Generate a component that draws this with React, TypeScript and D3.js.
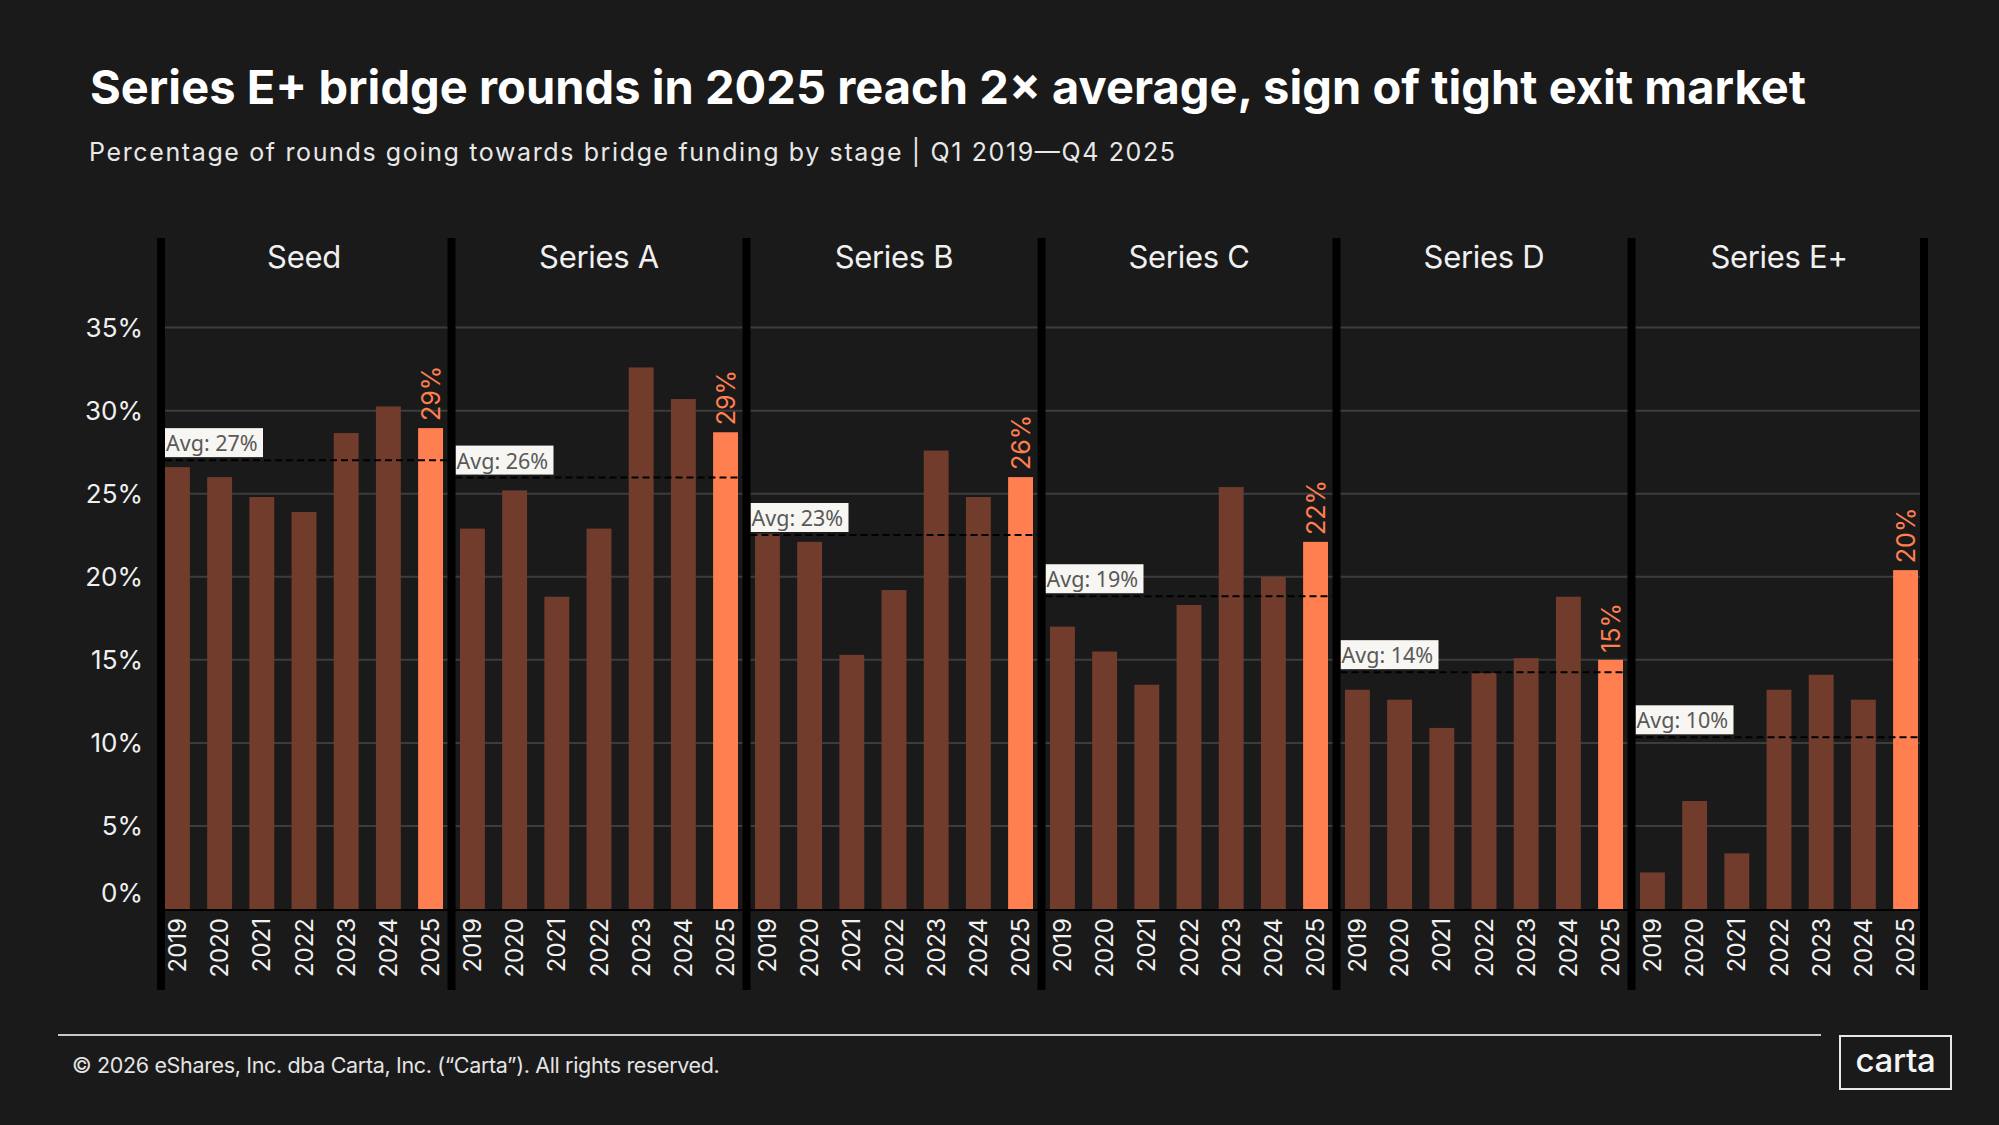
import React, { useEffect } from 'react';
import * as d3 from 'd3';

const stages = ['Seed', 'Series A', 'Series B', 'Series C', 'Series D', 'Series E+'];
const years = ['2019', '2020', '2021', '2022', '2023', '2024', '2025'];
const highlightYear = '2025';

const seedValues = [26.6, 26.0, 24.8, 23.9, 28.65, 30.25, 28.95];
const seriesAValues = [22.9, 25.2, 18.8, 22.9, 32.6, 30.7, 28.7];
const seriesBValues = [22.6, 22.1, 15.3, 19.2, 27.6, 24.8, 26.0];
const seriesCValues = [17.0, 15.5, 13.5, 18.3, 25.4, 20.0, 22.1];
const seriesDValues = [13.2, 12.6, 10.9, 14.2, 15.1, 18.8, 15.0];
const seriesEValues = [2.2, 6.5, 3.35, 13.2, 14.1, 12.6, 20.4];
const stageValues = [seedValues, seriesAValues, seriesBValues, seriesCValues, seriesDValues, seriesEValues];

const yTicks = [0, 5, 10, 15, 20, 25, 30, 35];

const titleText = 'Series E+ bridge rounds in 2025 reach 2× average, sign of tight exit market';
const subtitleText = 'Percentage of rounds going towards bridge funding by stage |  Q1 2019—Q4 2025';
const footerText = '© 2026 eShares, Inc. dba Carta, Inc. (“Carta”). All rights reserved.';
const logoText = 'carta';

const FONT = 'Inter, "Noto Sans", sans-serif';
const BG = '#1a1a1a';
const BAR = '#723c2d';
const HI = '#ff7f50';
const TEXT = '#f0f0f0';

export default function App() {
  useEffect(() => {
    document.body.style.margin = '0';
    document.body.style.background = BG;
  }, []);

  const W = 1999;
  const H = 1125;
  const y = d3.scaleLinear().domain([0, 35]).range([909, 327.6]);
  const panel = d3.scaleBand<string>().domain(stages).range([165, 165 + 295 * 6]).paddingInner(0).paddingOuter(0);
  const x = d3.scaleBand<string>().domain(years).range([0, 278]).paddingInner(0.41).paddingOuter(0);

  const barsStart = (i: number) => panel(stages[i]) as number;
  const barsEnd = (i: number) => barsStart(i) + 278;
  const sepCenters: number[] = [];
  for (let i = 0; i <= stages.length; i++) {
    if (i === 0) sepCenters.push(barsStart(0) - 4);
    else if (i === stages.length) sepCenters.push(barsEnd(i - 1) + 6);
    else sepCenters.push((barsEnd(i - 1) + barsStart(i)) / 2);
  }
  const gridLeft = sepCenters[0];
  const gridRight = sepCenters[sepCenters.length - 1];

  return (
    <svg width={W} height={H} style={{ display: 'block', position: 'absolute', left: 0, top: 0, background: BG }}>
      <rect x={0} y={0} width={W} height={H} fill={BG} />
      <text x={90} y={104} fill="#ffffff" fontFamily={FONT} fontWeight={700} fontSize={47}
        textLength={1716} lengthAdjust="spacing">
        {titleText}
      </text>
      <text x={89} y={161} fill="#e8e8e8" fontFamily={FONT} fontWeight={400} fontSize={25}
        textLength={1086} lengthAdjust="spacing">
        {subtitleText}
      </text>

      {/* gridlines */}
      {yTicks.filter((t) => t > 0).map((t) => (
        <line key={'g' + t} x1={gridLeft} x2={gridRight} y1={y(t)} y2={y(t)} stroke="#3c3c3c" strokeWidth={2} />
      ))}

      {/* y tick labels */}
      {yTicks.map((t) => (
        <text key={'yl' + t} x={143} y={y(t) - (t === 0 ? 17 : 0)} textAnchor="end" dominantBaseline="central"
          fill={TEXT} fontFamily={FONT} fontSize={26}>
          {t + '%'}
        </text>
      ))}

      {stages.map((stage, i) => {
        const vals = stageValues[i];
        const avg = d3.mean(vals) as number;
        const x0 = barsStart(i);
        const innerL = sepCenters[i] + 4;
        const innerR = sepCenters[i + 1] - 4;
        const ya = y(avg);
        return (
          <g key={stage}>
            <text x={x0 + 139} y={268} textAnchor="middle" fill={TEXT} fontFamily={FONT} fontSize={31} letterSpacing={-0.3}>
              {stage}
            </text>
            {years.map((yr, j) => {
              const v = vals[j];
              const bx = x0 + (x(yr) as number);
              const bw = x.bandwidth();
              const isHi = yr === highlightYear;
              return (
                <g key={yr}>
                  <rect x={bx} y={y(v)} width={bw} height={y(0) - y(v)} fill={isHi ? HI : BAR} />
                  <text transform={`translate(${bx + bw / 2},918) rotate(-90)`} textAnchor="end" dominantBaseline="central"
                    fill={TEXT} fontFamily={FONT} fontSize={24}>
                    {yr}
                  </text>
                  {isHi && (
                    <text transform={`translate(${bx + bw / 2},${y(v) - 7}) rotate(-90)`} textAnchor="start" dominantBaseline="central"
                      fill={HI} fontFamily={FONT} fontSize={25}>
                      {Math.round(v) + '%'}
                    </text>
                  )}
                </g>
              );
            })}
            <line x1={innerL} x2={innerR} y1={ya} y2={ya} stroke="#000" strokeWidth={2} strokeDasharray="7 4" />
            <rect x={innerL} y={ya - 32} width={98} height={29} fill="#f7f6f2" />
            <text x={innerL + 1} y={ya - 9} fill="#595959" fontFamily='"Noto Sans", "Open Sans", sans-serif' fontSize={21.5}>
              {'Avg: ' + Math.round(avg) + '%'}
            </text>
          </g>
        );
      })}

      {/* baseline */}
      <line x1={gridLeft} x2={gridRight} y1={y(0) + 1} y2={y(0) + 1} stroke="#000" strokeWidth={2} />

      {/* separators */}
      {sepCenters.map((c, i) => (
        <rect key={'s' + i} x={c - 4} y={238} width={8} height={752} fill="#000" />
      ))}

      {/* footer */}
      <line x1={58} x2={1821} y1={1035} y2={1035} stroke="#c8c8c8" strokeWidth={2} />
      <text x={72} y={1073} fill="#e4e4e4" fontFamily={FONT} fontSize={21.5} letterSpacing={-0.35}>
        {footerText}
      </text>
      <rect x={1840} y={1036} width={111} height={53} fill="none" stroke="#e8e8e8" strokeWidth={2} />
      <text x={1895.5} y={1072} textAnchor="middle" fill="#f4f4f4" fontFamily={FONT} fontWeight={500} fontSize={33} letterSpacing={-0.3}>
        {logoText}
      </text>
    </svg>
  );
}
